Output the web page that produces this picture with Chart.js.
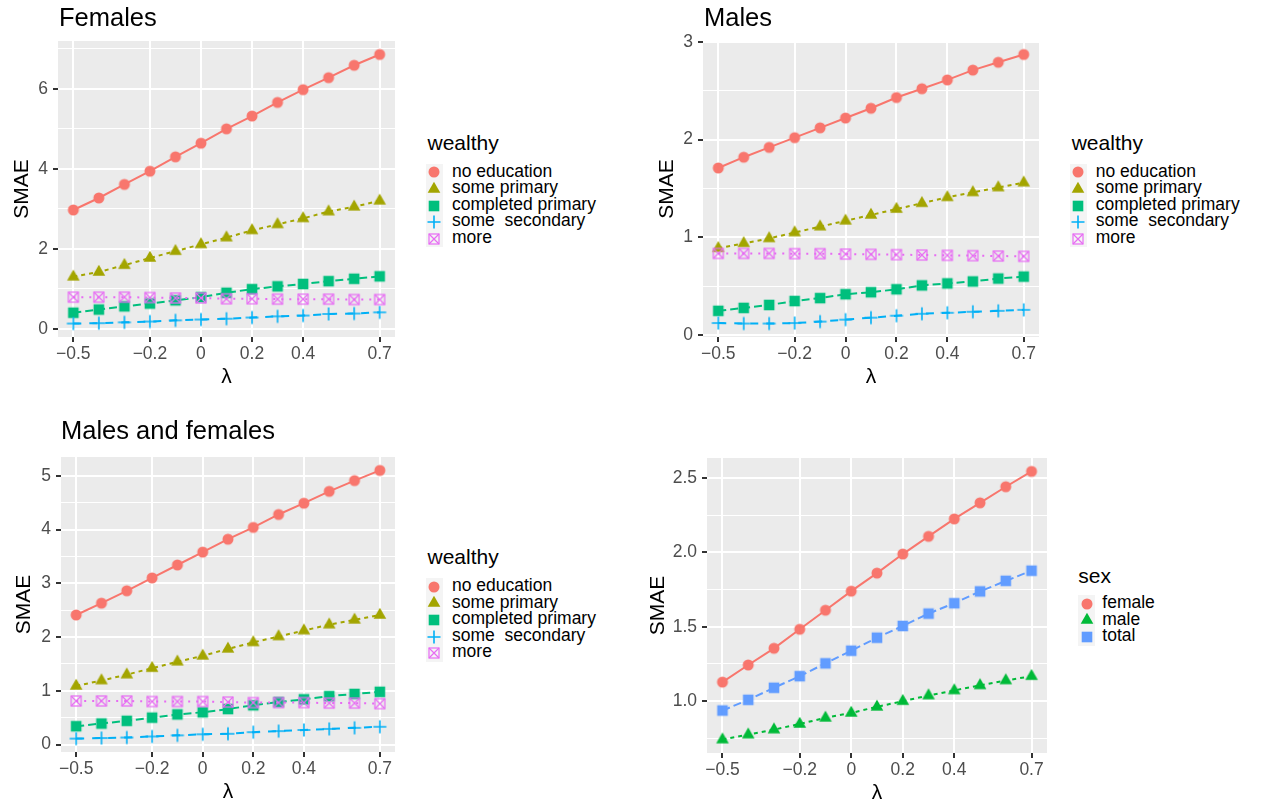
<!DOCTYPE html>
<html>
<head>
<meta charset="utf-8">
<script src="https://cdn.jsdelivr.net/npm/chart.js@4.4.1/dist/chart.umd.min.js"></script>
<style>
    html, body { margin: 0; padding: 0; background: #fff; overflow: hidden; }
    #page { position: relative; width: 1267px; height: 803px; overflow: hidden; font-family: "Liberation Sans", Arial, sans-serif; }
    .panel { position: absolute; }
    .ptitle { position: absolute; font-size: 25.5px; line-height: 25.5px; color: #000; white-space: nowrap; }
    .ltitle { position: absolute; font-size: 21px; line-height: 21px; color: #000; white-space: nowrap; }
    .ltext { position: absolute; font-size: 17.5px; line-height: 17.5px; color: #000; white-space: pre; }
    .lkey { position: absolute; width: 17px; height: 17px; background: #F4F4F4; }
    .lkey canvas { position: absolute; left: 0.5px; top: 0.5px; }
</style>
</head>
<body>
<div id="page"></div>
<script>
// x values (lambda) and axis breaks
const lambda = [-0.5, -0.4, -0.3, -0.2, -0.1, 0, 0.1, 0.2, 0.3, 0.4, 0.5, 0.6, 0.7];
const xTicks = [-0.5, -0.2, 0, 0.2, 0.4, 0.7];

// legend levels
const educationLevels = ['no education', 'some primary', 'completed primary', 'some  secondary', 'more'];
const sexLevels = ['female', 'male', 'total'];

// Females
const femalesNoEdu    = [2.97, 3.27, 3.61, 3.94, 4.30, 4.64, 5.00, 5.32, 5.66, 5.98, 6.28, 6.59, 6.86];
const femalesSomePrim = [1.30, 1.42, 1.59, 1.77, 1.94, 2.11, 2.28, 2.46, 2.61, 2.76, 2.93, 3.05, 3.20];
const femalesCompPrim = [0.40, 0.48, 0.56, 0.63, 0.71, 0.79, 0.90, 0.99, 1.06, 1.12, 1.19, 1.25, 1.31];
const femalesSomeSec  = [0.13, 0.14, 0.16, 0.18, 0.21, 0.23, 0.25, 0.28, 0.31, 0.33, 0.37, 0.38, 0.41];
const femalesMore     = [0.79, 0.79, 0.79, 0.78, 0.77, 0.77, 0.75, 0.75, 0.74, 0.74, 0.74, 0.73, 0.73];

// Males
const malesNoEdu    = [1.71, 1.82, 1.92, 2.02, 2.12, 2.22, 2.32, 2.43, 2.52, 2.61, 2.71, 2.79, 2.87];
const malesSomePrim = [0.89, 0.94, 0.99, 1.05, 1.11, 1.17, 1.23, 1.29, 1.35, 1.41, 1.46, 1.51, 1.56];
const malesCompPrim = [0.25, 0.28, 0.31, 0.35, 0.38, 0.42, 0.44, 0.47, 0.51, 0.53, 0.55, 0.58, 0.60];
const malesSomeSec  = [0.125, 0.12, 0.12, 0.125, 0.14, 0.16, 0.18, 0.20, 0.22, 0.23, 0.24, 0.25, 0.26];
const malesMore     = [0.837, 0.837, 0.837, 0.834, 0.834, 0.83, 0.827, 0.824, 0.82, 0.817, 0.814, 0.81, 0.807];

// Males and females
const bothNoEdu    = [2.41, 2.63, 2.86, 3.10, 3.34, 3.58, 3.82, 4.04, 4.28, 4.49, 4.71, 4.91, 5.10];
const bothSomePrim = [1.09, 1.19, 1.30, 1.42, 1.54, 1.65, 1.78, 1.90, 2.01, 2.12, 2.23, 2.32, 2.41];
const bothCompPrim = [0.34, 0.39, 0.44, 0.50, 0.56, 0.60, 0.66, 0.73, 0.79, 0.84, 0.90, 0.94, 0.98];
const bothSomeSec  = [0.11, 0.12, 0.13, 0.15, 0.17, 0.19, 0.20, 0.23, 0.25, 0.27, 0.29, 0.31, 0.33];
const bothMore     = [0.81, 0.81, 0.81, 0.80, 0.80, 0.80, 0.79, 0.78, 0.78, 0.78, 0.77, 0.77, 0.76];

// by sex
const sexFemale = [1.128, 1.243, 1.355, 1.483, 1.611, 1.739, 1.86, 1.988, 2.107, 2.224, 2.332, 2.44, 2.543];
const sexMale   = [0.742, 0.775, 0.809, 0.847, 0.888, 0.921, 0.962, 1.0, 1.038, 1.072, 1.106, 1.139, 1.168];
const sexTotal  = [0.937, 1.009, 1.09, 1.168, 1.254, 1.339, 1.426, 1.505, 1.588, 1.658, 1.737, 1.808, 1.876];

// y breaks (major labelled, minor only gridlines)
const femalesYMajor = [0, 2, 4, 6];
const femalesYMinor = [1, 3, 5, 7];
const malesYMajor = [0, 1, 2, 3];
const malesYMinor = [0.5, 1.5, 2.5];
const bothYMajor = [0, 1, 2, 3, 4, 5];
const bothYMinor = [0.5, 1.5, 2.5, 3.5, 4.5];
const sexYMajor = [1.0, 1.5, 2.0, 2.5];
const sexYMinor = [0.75, 1.25, 1.75, 2.25];

// styles
const educationColors = ['#F8766D', '#A3A500', '#00BF7D', '#00B0F6', '#E76BF3'];
const educationShapes = ['circle', 'triangle', 'square', 'plus', 'squareCross'];
const educationDashes = [[], [4, 4], [8, 4], [8, 8], [2, 6]];
const sexColors = ['#F8766D', '#00BA38', '#619CFF'];
const sexShapes = ['circle', 'triangle', 'square'];
const sexDashes = [[], [4, 4], [8, 4]];

Chart.defaults.font.family = "'Liberation Sans', Arial, sans-serif";

const page = document.getElementById('page');

// ggplot-like point glyphs, used as pointStyle and in the legend
function makeMarker(shape, color) {
    const c = document.createElement('canvas');
    c.width = 16; c.height = 16;
    const g = c.getContext('2d');
    const m = 8;
    g.fillStyle = color;
    g.strokeStyle = color;
    if (shape === 'circle') {
        g.beginPath(); g.arc(m, m, 5.5, 0, Math.PI * 2); g.fill();
    } else if (shape === 'triangle') {
        const r = 7.3;
        g.beginPath();
        g.moveTo(m, m - r);
        g.lineTo(m + r * 0.866, m + r * 0.5);
        g.lineTo(m - r * 0.866, m + r * 0.5);
        g.closePath(); g.fill();
    } else if (shape === 'square') {
        g.fillRect(m - 5.3, m - 5.3, 10.6, 10.6);
    } else if (shape === 'plus') {
        g.lineWidth = 1.6;
        g.beginPath();
        g.moveTo(m - 6.5, m); g.lineTo(m + 6.5, m);
        g.moveTo(m, m - 6.5); g.lineTo(m, m + 6.5);
        g.stroke();
    } else if (shape === 'squareCross') {
        g.lineWidth = 1.2;
        g.strokeRect(m - 5, m - 5, 10, 10);
        g.beginPath();
        g.moveTo(m - 5, m - 5); g.lineTo(m + 5, m + 5);
        g.moveTo(m + 5, m - 5); g.lineTo(m - 5, m + 5);
        g.stroke();
    }
    return c;
}

const panelBg = {
    id: 'panelBg',
    beforeDraw(chart) {
        const a = chart.chartArea;
        chart.ctx.save();
        chart.ctx.fillStyle = '#EBEBEB';
        chart.ctx.fillRect(a.left, a.top, a.right - a.left, a.bottom - a.top);
        chart.ctx.restore();
    }
};

const fmtMinus = v => String(v).replace('-', '\u2212');

function addText(cls, text, left, top) {
    const d = document.createElement('div');
    d.className = cls;
    d.textContent = text;
    d.style.left = left + 'px';
    d.style.top = top + 'px';
    page.appendChild(d);
}

function makePanel(cfg) {
    const ch = cfg.plotB - cfg.cy + 63;
    const wrap = document.createElement('div');
    wrap.className = 'panel';
    wrap.style.left = cfg.cx + 'px';
    wrap.style.top = cfg.cy + 'px';
    const canvas = document.createElement('canvas');
    canvas.width = cfg.cw;
    canvas.height = ch;
    wrap.appendChild(canvas);
    page.appendChild(wrap);

    const yAll = cfg.yMajor.concat(cfg.yMinor).sort((a, b) => a - b);
    const isMajor = v => cfg.yMajor.some(m => Math.abs(m - v) < 1e-9);
    const vals = cfg.series.flat();
    const lo = Math.min(...vals), hi = Math.max(...vals);
    const yPad = (hi - lo) * 0.05;
    const xPad = (lambda[lambda.length - 1] - lambda[0]) * 0.05;
    const n = cfg.series.length;

    new Chart(canvas, {
        type: 'line',
        data: {
            datasets: cfg.series.map((s, i) => ({
                label: cfg.labels[i],
                data: lambda.map((x, j) => ({ x: x, y: s[j] })),
                borderColor: cfg.colors[i],
                backgroundColor: cfg.colors[i],
                borderWidth: 2,
                borderDash: cfg.dashes[i],
                pointStyle: makeMarker(cfg.shapes[i], cfg.colors[i]),
                pointRadius: 6,
                fill: false,
                tension: 0,
                order: n - i
            }))
        },
        options: {
            responsive: false,
            animation: false,
            events: [],
            layout: { padding: { left: 0, top: cfg.plotT - cfg.cy, right: cfg.cx + cfg.cw - cfg.plotR, bottom: 0 } },
            plugins: { legend: { display: false }, tooltip: { enabled: false } },
            scales: {
                x: {
                    type: 'linear',
                    min: lambda[0] - xPad,
                    max: lambda[lambda.length - 1] + xPad,
                    afterBuildTicks: s => { s.ticks = xTicks.map(v => ({ value: v })); },
                    afterFit: s => { s.height = 63; },
                    border: { display: false },
                    grid: { color: '#FFFFFF', lineWidth: 2, tickColor: '#333333', tickLength: 5, tickWidth: 2 },
                    ticks: {
                        autoSkip: false, maxRotation: 0, padding: 2,
                        color: '#4D4D4D', font: { size: 17.5 },
                        callback: v => fmtMinus(v)
                    },
                    title: { display: true, text: 'λ', color: '#000', font: { size: 21 }, padding: { top: 0, bottom: 10.4 } }
                },
                y: {
                    type: 'linear',
                    min: lo - yPad,
                    max: hi + yPad,
                    afterBuildTicks: s => { s.ticks = yAll.map(v => ({ value: v })); },
                    afterFit: s => { s.width = cfg.plotL - cfg.cx; },
                    border: { display: false },
                    grid: {
                        color: '#FFFFFF',
                        lineWidth: c => isMajor(c.tick.value) ? 2 : 1,
                        tickColor: c => isMajor(c.tick.value) ? '#333333' : 'rgba(0,0,0,0)',
                        tickLength: 5,
                        tickWidth: 2
                    },
                    ticks: {
                        padding: 5, color: '#4D4D4D', font: { size: 17.5 },
                        callback: v => isMajor(v) ? fmtMinus(v.toFixed(cfg.yDigits)) : ''
                    },
                    title: { display: true, text: 'SMAE', color: '#000', font: { size: 21 }, padding: { top: cfg.yTitleX - 12.6, bottom: 0 } }
                }
            }
        },
        plugins: [panelBg]
    });

    if (cfg.title) addText('ptitle', cfg.title, cfg.titleX, cfg.titleY);

    // legend
    const L = cfg.legend;
    addText('ltitle', L.title, L.x, L.baseline - 17.8);
    cfg.labels.forEach((lab, i) => {
        const cy = L.y0 + i * L.step;
        const key = document.createElement('div');
        key.className = 'lkey';
        key.style.left = (L.markerX - 8.5) + 'px';
        key.style.top = (cy - 8.5) + 'px';
        key.appendChild(makeMarker(cfg.shapes[i], cfg.colors[i]));
        page.appendChild(key);
        addText('ltext', lab, L.textX, cy - 9.8);
    });
}

makePanel({
    cx: 0, cy: 0, cw: 410, plotL: 58, plotT: 41, plotR: 395, plotB: 337,
    yTitleX: 22, yDigits: 0,
    title: 'Females', titleX: 59, titleY: 4.5,
    series: [femalesNoEdu, femalesSomePrim, femalesCompPrim, femalesSomeSec, femalesMore],
    labels: educationLevels, colors: educationColors, shapes: educationShapes, dashes: educationDashes,
    yMajor: femalesYMajor, yMinor: femalesYMinor,
    legend: { title: 'wealthy', x: 427.5, baseline: 149.3, markerX: 434, textX: 452, y0: 172.3, step: 16.6 }
});

makePanel({
    cx: 640, cy: 0, cw: 420, plotL: 703, plotT: 41, plotR: 1039, plotB: 337,
    yTitleX: 27, yDigits: 0,
    title: 'Males', titleX: 704, titleY: 4.5,
    series: [malesNoEdu, malesSomePrim, malesCompPrim, malesSomeSec, malesMore],
    labels: educationLevels, colors: educationColors, shapes: educationShapes, dashes: educationDashes,
    yMajor: malesYMajor, yMinor: malesYMinor,
    legend: { title: 'wealthy', x: 1071.7, baseline: 149.3, markerX: 1078.3, textX: 1095.7, y0: 172.3, step: 16.6 }
});

makePanel({
    cx: 0, cy: 400, cw: 410, plotL: 61, plotT: 457, plotR: 395, plotB: 752,
    yTitleX: 24, yDigits: 0,
    title: 'Males and females', titleX: 61, titleY: 417.5,
    series: [bothNoEdu, bothSomePrim, bothCompPrim, bothSomeSec, bothMore],
    labels: educationLevels, colors: educationColors, shapes: educationShapes, dashes: educationDashes,
    yMajor: bothYMajor, yMinor: bothYMinor,
    legend: { title: 'wealthy', x: 427.5, baseline: 563.8, markerX: 434, textX: 452, y0: 586.8, step: 16.6 }
});

makePanel({
    cx: 640, cy: 400, cw: 420, plotL: 707, plotT: 458, plotR: 1047, plotB: 753,
    yTitleX: 18, yDigits: 1,
    title: '', titleX: 0, titleY: 0,
    series: [sexFemale, sexMale, sexTotal],
    labels: sexLevels, colors: sexColors, shapes: sexShapes, dashes: sexDashes,
    yMajor: sexYMajor, yMinor: sexYMinor,
    legend: { title: 'sex', x: 1078.3, baseline: 582.7, markerX: 1086.7, textX: 1102.3, y0: 603.5, step: 16.8 }
});
</script>
</body>
</html>
